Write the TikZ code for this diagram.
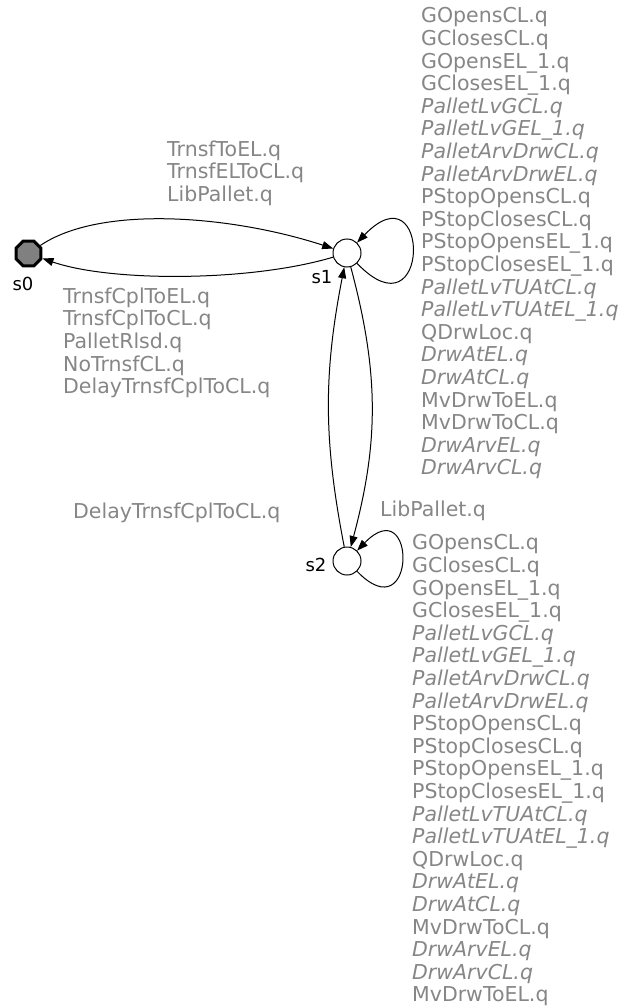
\documentclass[tikz,border=0pt]{standalone}
\usepackage{fontspec}
\setmainfont{DejaVu Sans}
\usetikzlibrary{arrows.meta,shapes.geometric}
\definecolor{labelgray}{RGB}{134,134,134}
\begin{document}
\begin{tikzpicture}[x=1pt,y=-1pt,
  state/.style={circle,draw=black,line width=1pt,minimum size=28pt,inner sep=0pt},
  initstate/.style={regular polygon,regular polygon sides=8,draw=black,fill=gray,
    line width=3pt,minimum size=27pt,inner sep=0pt},
  sname/.style={font=\fontsize{18}{20}\selectfont,text=black,inner sep=0pt},
  trans/.style={draw=black,line width=1pt,-{Triangle[length=11pt,width=8pt]}},
  lbl/.style={font=\fontsize{20.5}{22.6}\selectfont,text=labelgray,align=left,
    anchor=north west,inner sep=0pt},
]
\useasboundingbox (0,0) rectangle (634,1006);

% states
\node[initstate] (s0) at (28.5,253.5) {};
\node[state] (s1) at (347,253) {};
\node[state] (s2) at (347,561) {};
\node[sname] (n0) at (23,284) {s0};
\node[sname] (n1) at (322,277) {s1};
\node[sname] (n2) at (316,565) {s2};

% transitions between s0 and s1
\draw[trans] (s0) .. controls (100,205) and (230,215) .. (s1);
\draw[trans] (s1) .. controls (250,282) and (110,282) .. (s0);

% transitions between s1 and s2
\draw[trans] (s2) to[bend left=11] (s1);
\draw[trans] (s1) to[bend left=15] (s2);

% self loops
\draw[trans] (s1) .. controls (431,340) and (431,166) .. (s1);
\draw[trans] (s2) .. controls (417,633) and (417,489) .. (s2);

% transition labels
\node[lbl] (l01) at (167,140.5) {TrnsfToEL.q\\TrnsfELToCL.q\\LibPallet.q};
\node[lbl] (l10) at (63,287.5) {TrnsfCplToEL.q\\TrnsfCplToCL.q\\PalletRlsd.q\\NoTrnsfCL.q\\DelayTrnsfCplToCL.q};
\node[lbl] (l21) at (73,502.3) {DelayTrnsfCplToCL.q};
\node[lbl] (l12) at (380,500.5) {LibPallet.q};
\node[lbl] (l11) at (421,7.5) {GOpensCL.q\\GClosesCL.q\\GOpensEL\_1.q\\GClosesEL\_1.q\\
  \textit{PalletLvGCL.q}\\\textit{PalletLvGEL\_1.q}\\\textit{PalletArvDrwCL.q}\\\textit{PalletArvDrwEL.q}\\
  PStopOpensCL.q\\PStopClosesCL.q\\PStopOpensEL\_1.q\\PStopClosesEL\_1.q\\
  \textit{PalletLvTUAtCL.q}\\\textit{PalletLvTUAtEL\_1.q}\\QDrwLoc.q\\
  \textit{DrwAtEL.q}\\\textit{DrwAtCL.q}\\MvDrwToEL.q\\MvDrwToCL.q\\
  \textit{DrwArvEL.q}\\\textit{DrwArvCL.q}};
\node[lbl] (l22) at (412,534.5) {GOpensCL.q\\GClosesCL.q\\GOpensEL\_1.q\\GClosesEL\_1.q\\
  \textit{PalletLvGCL.q}\\\textit{PalletLvGEL\_1.q}\\\textit{PalletArvDrwCL.q}\\\textit{PalletArvDrwEL.q}\\
  PStopOpensCL.q\\PStopClosesCL.q\\PStopOpensEL\_1.q\\PStopClosesEL\_1.q\\
  \textit{PalletLvTUAtCL.q}\\\textit{PalletLvTUAtEL\_1.q}\\QDrwLoc.q\\
  \textit{DrwAtEL.q}\\\textit{DrwAtCL.q}\\MvDrwToCL.q\\
  \textit{DrwArvEL.q}\\\textit{DrwArvCL.q}\\MvDrwToEL.q};
\end{tikzpicture}
\end{document}
